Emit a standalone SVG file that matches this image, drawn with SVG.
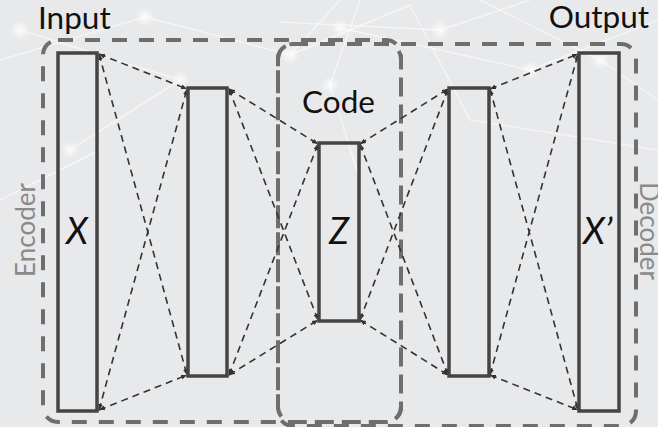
<svg xmlns="http://www.w3.org/2000/svg" width="658" height="427" viewBox="0 0 658 427">
  <defs>
    <style>
      .bgline { stroke: #ffffff; stroke-opacity: 0.55; stroke-width: 1.5; fill: none; }
      .layer { fill: none; stroke: #444444; stroke-width: 3.5; }
      .conn { fill: none; stroke: #333333; stroke-width: 1.6; stroke-dasharray: 7 5; marker-start: url(#arr); marker-end: url(#arr); }
      .frame { fill: none; stroke: #6e6e6e; stroke-width: 4; stroke-dasharray: 15 12; }
      .lbl { font-family: Lato, "Open Sans", "Liberation Sans", sans-serif; font-size: 31.5px; fill: #111111; }
      .var { font-family: Lato, "Open Sans", "Liberation Sans", sans-serif; font-size: 36px; font-style: italic; fill: #111111; }
      .side { font-family: Lato, "Open Sans", "Liberation Sans", sans-serif; font-size: 26px; fill: #8a8a8a; }
    </style>
    <marker id="arr" markerUnits="userSpaceOnUse" viewBox="0 0 6 5" refX="6" refY="2.5" markerWidth="6" markerHeight="5" orient="auto-start-reverse">
      <path d="M0,0 L6,2.5 L0,5 Z" fill="#333333"/>
    </marker>
    <radialGradient id="glow">
      <stop offset="0" stop-color="#ffffff" stop-opacity="0.8"/>
      <stop offset="1" stop-color="#ffffff" stop-opacity="0"/>
    </radialGradient>
  </defs>

  <g id="background">
    <rect x="0" y="0" width="658" height="427" fill="#e8e9eb"/>
    <line class="bgline" x1="0" y1="60" x2="145" y2="17"/>
    <line class="bgline" x1="20" y1="30" x2="180" y2="80"/>
    <line class="bgline" x1="145" y1="17" x2="290" y2="55"/>
    <line class="bgline" x1="290" y1="55" x2="410" y2="5"/>
    <line class="bgline" x1="290" y1="55" x2="340" y2="0"/>
    <line class="bgline" x1="280" y1="22" x2="440" y2="30"/>
    <line class="bgline" x1="340" y1="28" x2="530" y2="70"/>
    <line class="bgline" x1="440" y1="30" x2="530" y2="0"/>
    <line class="bgline" x1="530" y1="70" x2="658" y2="20"/>
    <line class="bgline" x1="480" y1="0" x2="600" y2="60"/>
    <line class="bgline" x1="600" y1="60" x2="658" y2="100"/>
    <line class="bgline" x1="330" y1="85" x2="360" y2="180"/>
    <line class="bgline" x1="360" y1="0" x2="330" y2="85"/>
    <line class="bgline" x1="180" y1="80" x2="70" y2="150"/>
    <line class="bgline" x1="0" y1="200" x2="100" y2="150"/>
    <line class="bgline" x1="470" y1="120" x2="658" y2="150"/>
    <line class="bgline" x1="410" y1="5" x2="470" y2="120"/>
    <circle cx="145" cy="17" r="10" fill="url(#glow)"/>
    <circle cx="290" cy="55" r="10" fill="url(#glow)"/>
    <circle cx="340" cy="28" r="9" fill="url(#glow)"/>
    <circle cx="440" cy="30" r="10" fill="url(#glow)"/>
    <circle cx="530" cy="70" r="10" fill="url(#glow)"/>
    <circle cx="600" cy="60" r="10" fill="url(#glow)"/>
    <circle cx="20" cy="30" r="10" fill="url(#glow)"/>
    <circle cx="70" cy="150" r="9" fill="url(#glow)"/>
    <circle cx="180" cy="80" r="9" fill="url(#glow)"/>
    <circle cx="330" cy="85" r="9" fill="url(#glow)"/>
  </g>

  <g id="frames">
    <rect id="encoder-frame" class="frame" x="43" y="40" width="358" height="382" rx="15"/>
    <rect id="code-frame" class="frame" x="278" y="44" width="123" height="378" rx="15"/>
    <rect id="decoder-frame" class="frame" x="278" y="44" width="358" height="382" rx="15"/>
  </g>

  <g id="connectors">
    <line class="conn" x1="99" y1="54" x2="187" y2="89"/>
    <line class="conn" x1="99" y1="54" x2="187" y2="375"/>
    <line class="conn" x1="99" y1="410" x2="187" y2="89"/>
    <line class="conn" x1="99" y1="410" x2="187" y2="375"/>
    <line class="conn" x1="229" y1="89" x2="318" y2="144"/>
    <line class="conn" x1="229" y1="89" x2="318" y2="320"/>
    <line class="conn" x1="229" y1="375" x2="318" y2="144"/>
    <line class="conn" x1="229" y1="375" x2="318" y2="320"/>
    <line class="conn" x1="360" y1="144" x2="448" y2="89"/>
    <line class="conn" x1="360" y1="144" x2="448" y2="375"/>
    <line class="conn" x1="360" y1="320" x2="448" y2="89"/>
    <line class="conn" x1="360" y1="320" x2="448" y2="375"/>
    <line class="conn" x1="490" y1="89" x2="578" y2="54"/>
    <line class="conn" x1="490" y1="89" x2="578" y2="410"/>
    <line class="conn" x1="490" y1="375" x2="578" y2="54"/>
    <line class="conn" x1="490" y1="375" x2="578" y2="410"/>
  </g>

  <g id="input-layer">
    <rect class="layer" x="58" y="53" width="39" height="358"/>
    <text class="var" x="77" y="244" text-anchor="middle">X</text>
  </g>
  <g id="hidden-encoder">
    <rect class="layer" x="188" y="88" width="39" height="288"/>
  </g>
  <g id="code-layer">
    <rect class="layer" x="319" y="143" width="40" height="178"/>
    <text class="var" x="339" y="244" text-anchor="middle">Z</text>
  </g>
  <g id="hidden-decoder">
    <rect class="layer" x="449" y="88" width="40" height="288"/>
  </g>
  <g id="output-layer">
    <rect class="layer" x="579" y="53" width="40" height="358"/>
    <text class="var" x="583" y="244">X’</text>
  </g>

  <g id="labels">
    <text class="lbl" x="38" y="29">Input</text>
    <text class="lbl" x="649" y="28" text-anchor="end">Output</text>
    <text class="lbl" x="338.5" y="113" text-anchor="middle">Code</text>
    <text class="side" transform="translate(35,230) rotate(-90)" text-anchor="middle">Encoder</text>
    <text class="side" transform="translate(640,231) rotate(90)" text-anchor="middle">Decoder</text>
  </g>
</svg>
